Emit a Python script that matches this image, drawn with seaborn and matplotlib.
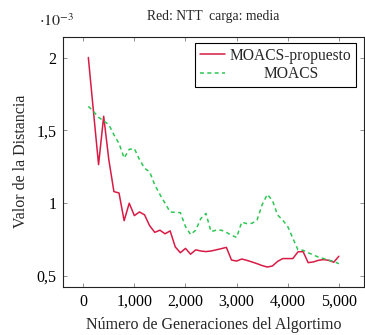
import matplotlib
matplotlib.use("Agg")
import matplotlib.pyplot as plt
from matplotlib.ticker import FuncFormatter, FixedLocator
import numpy as np
import pandas as pd
import seaborn as sns

# Generations sampled every 100 iterations
generaciones = list(range(100, 5001, 100))

# Distance values, in units of 1e-3
moacs_propuesto = [
    2.00, 1.63, 1.265, 1.597, 1.30, 1.08, 1.07, 0.88, 1.00, 0.915,
    0.94, 0.92, 0.845, 0.80, 0.815, 0.79, 0.81, 0.70, 0.66, 0.69,
    0.65, 0.68, 0.672, 0.668, 0.672, 0.68, 0.688, 0.697, 0.61, 0.603,
    0.617, 0.608, 0.597, 0.585, 0.572, 0.562, 0.569, 0.60, 0.62, 0.62,
    0.62, 0.666, 0.668, 0.592, 0.597, 0.608, 0.613, 0.608, 0.595, 0.636,
]
moacs = [
    1.665, 1.63, 1.59, 1.565, 1.54, 1.47, 1.41, 1.31, 1.37, 1.375,
    1.30, 1.24, 1.215, 1.125, 1.06, 1.00, 0.94, 0.937, 0.935, 0.84,
    0.785, 0.815, 0.895, 0.93, 0.805, 0.815, 0.815, 0.80, 0.78, 0.765,
    0.87, 0.86, 0.862, 0.885, 0.99, 1.06, 1.02, 0.92, 0.885, 0.84,
    0.76, 0.68, 0.677, 0.66, 0.645, 0.63, 0.62, 0.61, 0.60, 0.585,
]

series_names = ["MOACS-propuesto", "MOACS"]
series_colors = ["#D81B45", "#2DC653"]

x_ticks = [0, 1000, 2000, 3000, 4000, 5000]
y_ticks = [0.5, 1.0, 1.5, 2.0]

titulo = "Red: NTT  carga: media"
x_label = "Número de Generaciones del Algortimo"
y_label = "Valor de la Distancia"

df = pd.DataFrame({
    "gen": generaciones * 2,
    "valor": moacs_propuesto + moacs,
    "serie": [series_names[0]] * len(generaciones) + [series_names[1]] * len(generaciones),
})

sns.set_style("ticks")
plt.rcParams["font.family"] = ["Liberation Serif", "DejaVu Serif"]
plt.rcParams["mathtext.fontset"] = "stix"

fs = 11.5
dash = (2.6, 2.2)
fig = plt.figure(figsize=(3.65, 3.35), dpi=100)
ax = fig.add_axes([0.1734, 0.1442, 0.997 - 0.1734, 0.8904 - 0.1442])

sns.lineplot(
    data=df, x="gen", y="valor", hue="serie", style="serie",
    hue_order=series_names, style_order=series_names,
    palette=series_colors,
    dashes={series_names[0]: "", series_names[1]: dash},
    linewidth=1.1, ax=ax, legend=False,
)

ax.set_xlim(-390, 5490)
ax.set_ylim(0.427, 2.143)
ax.xaxis.set_major_locator(FixedLocator(x_ticks))
ax.yaxis.set_major_locator(FixedLocator(y_ticks))
ax.xaxis.set_major_formatter(FuncFormatter(lambda v, p: f"{int(round(v)):,}"))
ax.yaxis.set_major_formatter(FuncFormatter(lambda v, p: f"{v:g}".replace(".", ",")))

ax.tick_params(direction="in", length=3.2, width=0.6, color="#7f7f7f",
               top=True, right=True, labelsize=fs, pad=5, labelcolor="black")
for s in ax.spines.values():
    s.set_visible(True)
    s.set_color("#222222")
    s.set_linewidth(0.8)

ax.set_xlabel(x_label, fontsize=fs, labelpad=5)
ax.set_ylabel(y_label, fontsize=fs, labelpad=5)
ax.set_title(titulo, fontsize=9.8, pad=12)
ax.text(-0.08, 1.025, r"$\cdot 10^{-3}$", transform=ax.transAxes,
        fontsize=fs, ha="left", va="bottom")

handles = [
    plt.Line2D([], [], color=series_colors[0], lw=1.1),
    plt.Line2D([], [], color=series_colors[1], lw=1.1, dashes=dash),
]
leg = ax.legend(handles, series_names, loc="upper right",
                bbox_to_anchor=(0.975, 0.975), borderaxespad=0,
                fontsize=11.2, frameon=True, fancybox=False,
                edgecolor="black", framealpha=1, handlelength=1.6,
                handletextpad=0.35, labelspacing=0.15, borderpad=0.3)
leg.get_frame().set_linewidth(0.8)

# centre the entry labels inside the legend column
fig.canvas.draw()
renderer = fig.canvas.get_renderer()
widths = [t.get_window_extent(renderer).width for t in leg.get_texts()]
wmax = max(widths)
for t, w in zip(leg.get_texts(), widths):
    t.set_position(((wmax - w) / 2, 0))

fig.savefig("out.png", dpi=100)
